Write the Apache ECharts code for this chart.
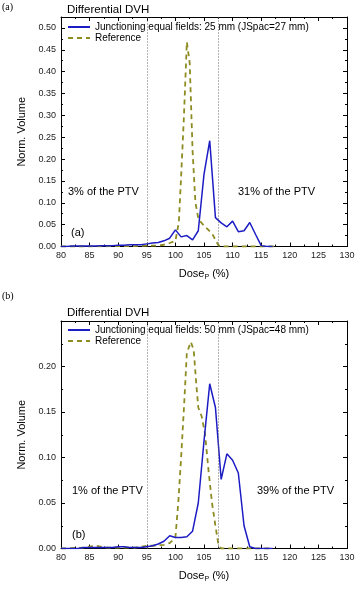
<!DOCTYPE html>
<html>
<head>
<meta charset="utf-8">
<script src="https://cdn.jsdelivr.net/npm/echarts@6/dist/echarts.min.js"></script>
<style>
html,body{margin:0;padding:0;background:#fff;}
#main{width:359px;height:589px;}
</style>
</head>
<body>
<div id="main"></div>
<script>
// panel (a): 25 mm fields
var doseA = [80,81,82,83,84,85,86,87,88,89,90,91,92,93,94,95,96,97,98,99,100,101,102,103,104,105,106,107,108,109,110,111,112,113,114,115,116,117];
var blueA = [0,0,0.001,0.001,0.001,0.001,0.001,0.002,0.002,0.002,0.003,0.003,0.004,0.004,0.004,0.006,0.008,0.009,0.013,0.019,0.038,0.022,0.025,0.015,0.036,0.165,0.242,0.066,0.054,0.045,0.058,0.034,0.036,0.055,0.028,0.002,0,0];
var refDoseA = [80,85,90,93,95,97,98,99,100,100.6,101,101.5,102,102.5,103,103.5,104,104.5,105.2,106.4,107.5,108,112,117.5];
var refA = [0,0,0.001,0.001,0.002,0.002,0.004,0.008,0.013,0.055,0.16,0.3,0.468,0.42,0.22,0.1,0.065,0.055,0.045,0.03,0.003,0,0,0];

// panel (b): 50 mm fields
var doseB = [80,81,82,83,84,85,86,87,88,89,90,91,92,93,94,95,96,97,98,99,100,101,102,103,104,105,106,107,108,109,110,111,112,113,114,115,116,117];
var blueB = [0,0,0,0,0.001,0.001,0.001,0.001,0.001,0.001,0.002,0.002,0.001,0.001,0.001,0.002,0.003,0.005,0.008,0.014,0.012,0.012,0.013,0.019,0.05,0.118,0.181,0.155,0.076,0.104,0.097,0.083,0.025,0.002,0,0,0,0];
var refDoseB = [80,84,86,88,90,93,95,96,98,99,100,100.5,101,101.5,102,102.7,103.2,103.6,104,104.6,105.2,105.8,106.4,107,107.5,108,112,117];
var refB = [0,0.001,0.003,0.001,0.001,0.001,0.003,0.003,0.004,0.006,0.012,0.05,0.1,0.155,0.215,0.227,0.218,0.185,0.155,0.145,0.125,0.085,0.05,0.025,0.005,0,0,0];

var limits = [95, 107.5];
var nameA = 'Junctioning equal fields: 25 mm (JSpac=27 mm)';
var nameB = 'Junctioning equal fields: 50 mm (JSpac=48 mm)';

var FONT = 'Liberation Sans, Arial, sans-serif';
var BLUE = '#1c1cc4';
var OLIVE = '#8c8c22';

function pairs(xs, ys){
	var out = [];
	for (var i = 0; i < xs.length; i++) out.push([xs[i], ys[i]]);
	return out;
}

function xAx(g, top){
	return {
		type:'value', gridIndex:g, min:80, max:130, interval:5,
		position: top ? 'top' : 'bottom',
		name: top ? '' : 'Dose{s|P} (%)',
		nameLocation:'middle', nameGap:21,
		nameTextStyle:{fontFamily:FONT, fontSize:11, color:'#000',
			rich:{s:{fontFamily:FONT, fontSize:7, color:'#000', verticalAlign:'bottom', padding:[6,0,0,0]}}},
		axisLine:{onZero:false, lineStyle:{color:'#000', width:1}},
		axisTick:{inside:true, length:4, lineStyle:{color:'#000'}},
		minorTick:{show:true, splitNumber:2, length:2, lineStyle:{color:'#000'}},
		axisLabel:{show:!top, fontFamily:FONT, fontSize:9, color:'#222', margin:5},
		splitLine:{show:false}
	};
}

function yAx(g, max, right){
	return {
		type:'value', gridIndex:g, min:0, max:max, interval:0.05,
		position: right ? 'right' : 'left',
		name: right ? '' : 'Norm. Volume',
		nameLocation:'middle', nameGap:34,
		nameTextStyle:{fontFamily:FONT, fontSize:11, color:'#000'},
		axisLine:{onZero:false, lineStyle:{color:'#000', width:1}},
		axisTick:{inside:true, length:4, lineStyle:{color:'#000'}},
		minorTick:{show:true, splitNumber:2, length:2, lineStyle:{color:'#000'}},
		axisLabel:{show:!right, showMaxLabel:false, fontFamily:FONT, fontSize:9, color:'#222', margin:5,
			formatter:function(v){ return v.toFixed(2); }},
		splitLine:{show:false}
	};
}

function limitLines(){
	return {
		symbol:'none', silent:true, label:{show:false},
		lineStyle:{color:'#666', type:[1,2], width:1},
		data: limits.map(function(v){ return {xAxis:v}; })
	};
}

function legendFor(top, first){
	return {
		left:62, top:top, orient:'vertical', itemWidth:22, itemHeight:10, itemGap:1,
		data:[first, 'Reference'],
		itemStyle:{opacity:0},
		textStyle:{fontFamily:FONT, fontSize:10, color:'#000'}
	};
}

var chart = echarts.init(document.getElementById('main'));
chart.setOption({
	animation:false,
	backgroundColor:'#fff',
	title:[
		{text:'Differential DVH', left:62, top:-1, textStyle:{fontFamily:FONT, fontSize:11.5, fontWeight:'normal', color:'#000'}},
		{text:'Differential DVH', left:62, top:302, textStyle:{fontFamily:FONT, fontSize:11.5, fontWeight:'normal', color:'#000'}}
	],
	legend:[legendFor(17, nameA), legendFor(320, nameB)],
	grid:[
		{left:61, right:12, top:17, height:229.5},
		{left:61, right:12, top:321, height:227.5}
	],
	xAxis:[xAx(0,false), xAx(0,true), xAx(1,false), xAx(1,true)],
	yAxis:[yAx(0,0.525,false), yAx(0,0.525,true), yAx(1,0.25,false), yAx(1,0.25,true)],
	series:[
		{name:nameA, type:'line', xAxisIndex:0, yAxisIndex:0, symbol:'none', data:pairs(doseA, blueA),
			lineStyle:{color:BLUE, width:1.5}, itemStyle:{color:BLUE}, z:3, markLine:limitLines()},
		{name:'Reference', type:'line', xAxisIndex:0, yAxisIndex:0, symbol:'none', data:pairs(refDoseA, refA),
			lineStyle:{color:OLIVE, width:1.8, type:[5,4]}, itemStyle:{color:OLIVE}, z:2},
		{name:nameB, type:'line', xAxisIndex:2, yAxisIndex:2, symbol:'none', data:pairs(doseB, blueB),
			lineStyle:{color:BLUE, width:1.5}, itemStyle:{color:BLUE}, z:3, markLine:limitLines()},
		{name:'Reference', type:'line', xAxisIndex:2, yAxisIndex:2, symbol:'none', data:pairs(refDoseB, refB),
			lineStyle:{color:OLIVE, width:1.8, type:[5,4]}, itemStyle:{color:OLIVE}, z:2}
	],
	graphic:[
		{type:'text', left:2, top:2, style:{text:'(a)', font:'10px "Liberation Serif", serif', fill:'#000'}},
		{type:'text', left:2, top:291, style:{text:'(b)', font:'10px "Liberation Serif", serif', fill:'#000'}},
		{type:'text', left:68, top:186, style:{text:'3% of the PTV', font:'11px "Liberation Sans", Arial', fill:'#000'}},
		{type:'text', left:238, top:186, style:{text:'31% of the PTV', font:'11px "Liberation Sans", Arial', fill:'#000'}},
		{type:'text', left:71, top:227, style:{text:'(a)', font:'11px "Liberation Sans", Arial', fill:'#000'}},
		{type:'text', left:72, top:485, style:{text:'1% of the PTV', font:'11px "Liberation Sans", Arial', fill:'#000'}},
		{type:'text', left:257, top:485, style:{text:'39% of the PTV', font:'11px "Liberation Sans", Arial', fill:'#000'}},
		{type:'text', left:72, top:529, style:{text:'(b)', font:'11px "Liberation Sans", Arial', fill:'#000'}}
	]
});
</script>
</body>
</html>
